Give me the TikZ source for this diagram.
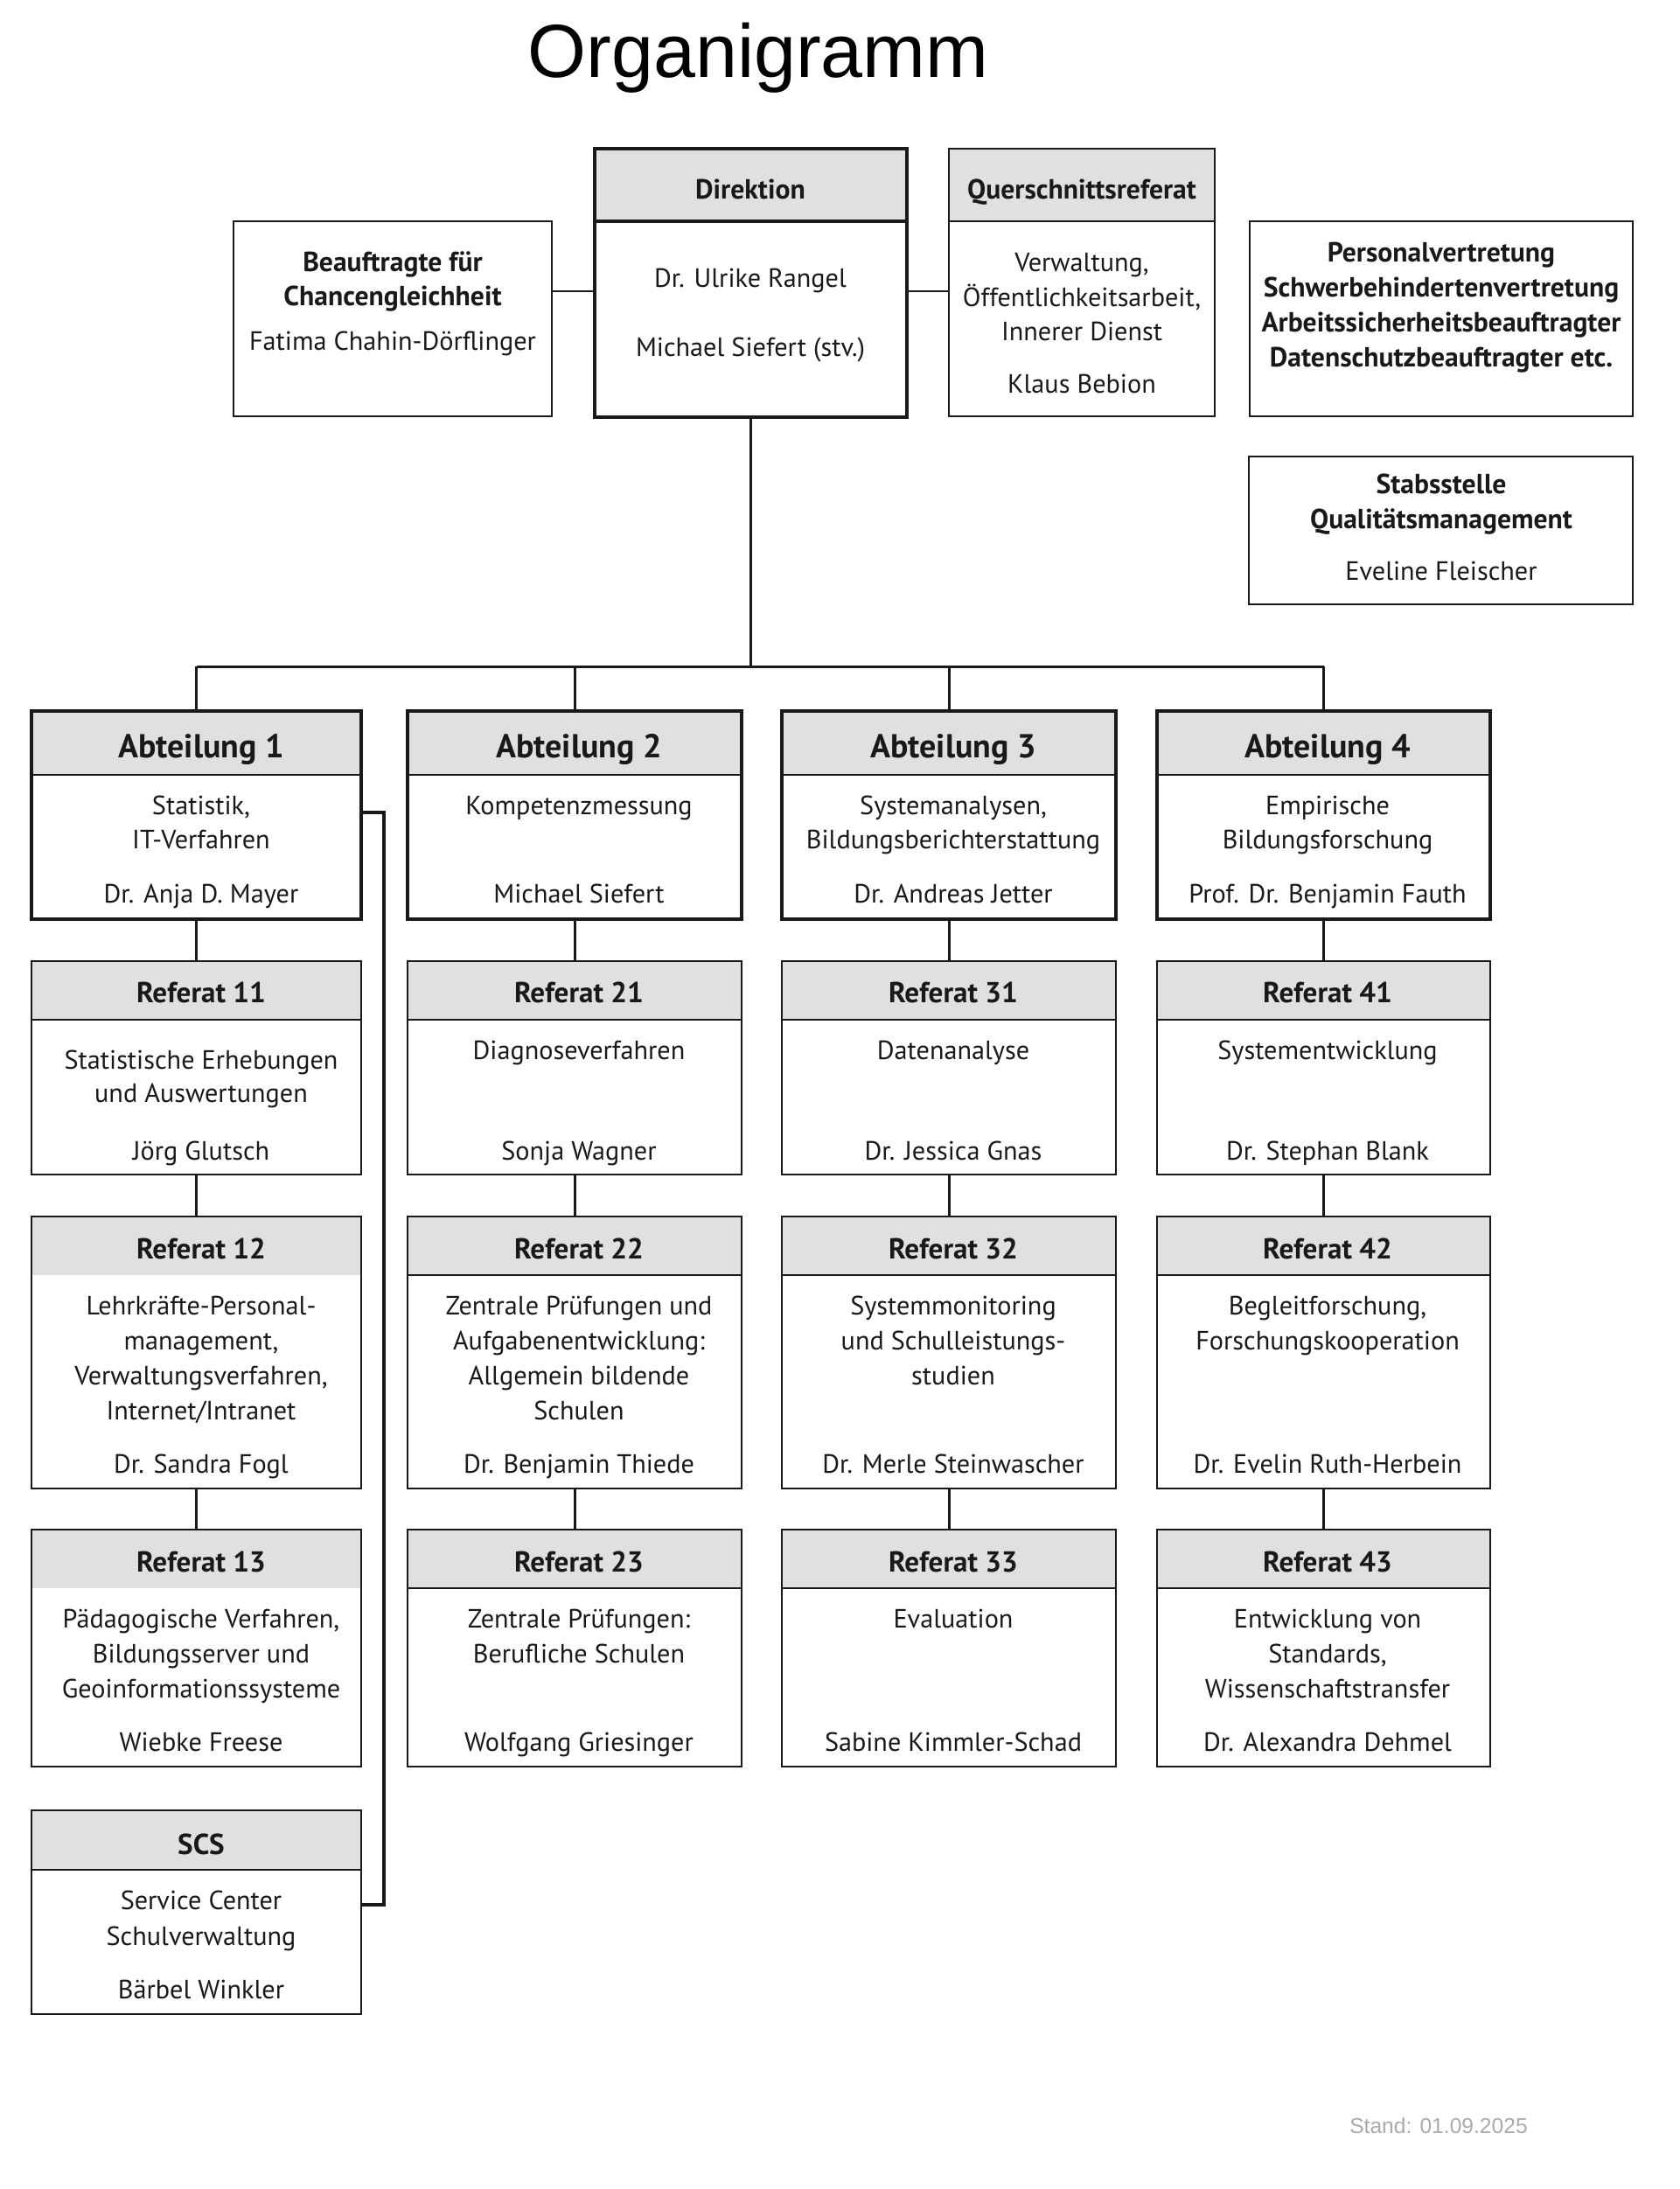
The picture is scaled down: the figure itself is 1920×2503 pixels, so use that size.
\documentclass[tikz,border=0pt]{standalone}
\usepackage{fontspec}
\setmainfont{PT Sans}
\newfontfamily\titlefont{Liberation Sans}
\usetikzlibrary{fit}
\definecolor{headfill}{RGB}{224,224,224}
\definecolor{standgray}{RGB}{170,170,170}
\definecolor{ink}{RGB}{25,25,25}
\tikzset{
  body/.style={font=\fontsize{8.6}{11}\selectfont, text=ink, inner sep=0pt, anchor=mid, yshift=-0.5pt},
  bodyb/.style={font=\fontsize{9}{11}\selectfont\bfseries, text=ink, inner sep=0pt, anchor=mid, yshift=-0.4pt},
  hdr/.style={font=\fontsize{9.4}{12}\selectfont\bfseries, text=ink, inner sep=0pt, anchor=mid, yshift=-0.9pt},
  bighdr/.style={font=\fontsize{10.8}{13}\selectfont\bfseries, text=ink, inner sep=0pt, anchor=mid, yshift=-1.0pt},
  thinbox/.style={draw=ink, line width=0.7pt},
  thickbox/.style={draw=ink, line width=1.3pt},
  thinsep/.style={draw=ink, line width=0.7pt},
  thicksep/.style={draw=ink, line width=0.9pt},
  nosep/.style={draw=none},
  conn/.style={draw=ink, line width=0.85pt},
  bracketline/.style={draw=ink, line width=1.4pt},
}
% #1 name, #2 left, #3 top, #4 right, #5 bottom, #6 header bottom, #7 border style, #8 separator style
\newcommand\orgbox[8]{%
  \fill[headfill] (#2,#3) rectangle (#4,#6);
  \draw[#8] (#2,#6) -- (#4,#6);
  \node[fit={(#2,#3)(#4,#5)}, inner sep=0pt, #7] (#1) {};
}
\newcommand\plainbox[6]{%
  \node[fit={(#2,#3)(#4,#5)}, inner sep=0pt, #6] (#1) {};
}
\newcommand\tline[4]{\node[body] (#1) at (#2,#3) {#4};}
\newcommand\bline[4]{\node[bodyb] (#1) at (#2,#3) {#4};}
\newcommand\rhead[4]{\node[hdr] (#1) at (#2,#3) {#4};}
\newcommand\ahead[4]{\node[bighdr] (#1) at (#2,#3) {#4};}
\begin{document}
\begin{tikzpicture}[x=0.01cm, y=-0.01cm]
\useasboundingbox[fill=white] (0,0) rectangle (1920,2503);

% title
\node[font=\titlefont\fontsize{24.5}{28}\selectfont, text=black, anchor=base, inner sep=0pt] (title) at (867,89) {Organigramm};

% top boxes
\orgbox{dir}{680}{170}{1037}{477}{253}{thickbox}{thicksep}
\orgbox{quer}{1085}{170}{1389}{476}{253}{thinbox}{thinsep}
\plainbox{beauf}{267}{253}{631}{476}{thinbox}
\plainbox{pers}{1429}{253}{1867}{476}{thinbox}
\plainbox{stabs}{1428}{522}{1867}{691}{thinbox}

\bline{dirh}{858}{217}{Direktion}
\tline{dir1}{858}{318}{Dr. Ulrike Rangel}
\tline{dir2}{858}{397}{Michael Siefert (stv.)}

\bline{querh}{1237}{217}{Querschnittsreferat}
\tline{quer1}{1237}{300}{Verwaltung,}
\tline{quer2}{1237}{340}{Öffentlichkeitsarbeit,}
\tline{quer3}{1237}{379}{Innerer Dienst}
\tline{quer4}{1237}{439}{Klaus Bebion}

\bline{beauf1}{449}{300}{Beauftragte für}
\bline{beauf2}{449}{339}{Chancengleichheit}
\tline{beauf3}{449}{390}{Fatima Chahin-Dörflinger}

\bline{pers1}{1648}{289}{Personalvertretung}
\bline{pers2}{1648}{329}{Schwerbehindertenvertretung}
\bline{pers3}{1648}{369}{Arbeitssicherheitsbeauftragter}
\bline{pers4}{1648}{409}{Datenschutzbeauftragter etc.}

\bline{stabs1}{1648}{554}{Stabsstelle}
\bline{stabs2}{1648}{594}{Qualitätsmanagement}
\tline{stabs3}{1648}{653}{Eveline Fleischer}

% Abteilungen
\orgbox{a1}{36}{813}{413}{1051}{886}{thickbox}{thinsep}
\orgbox{a2}{466}{813}{848}{1051}{886}{thickbox}{thinsep}
\orgbox{a3}{894}{813}{1276}{1051}{886}{thickbox}{thinsep}
\orgbox{a4}{1323}{813}{1704}{1051}{886}{thickbox}{thinsep}

\ahead{a1h}{230}{854}{Abteilung 1}
\tline{a1l1}{230}{921}{Statistik,}
\tline{a1l2}{230}{960}{IT-Verfahren}
\tline{a1n}{230}{1022}{Dr. Anja D. Mayer}

\ahead{a2h}{662}{854}{Abteilung 2}
\tline{a2l1}{662}{921}{Kompetenzmessung}
\tline{a2n}{662}{1022}{Michael Siefert}

\ahead{a3h}{1090}{854}{Abteilung 3}
\tline{a3l1}{1090}{921}{Systemanalysen,}
\tline{a3l2}{1090}{960}{Bildungsberichterstattung}
\tline{a3n}{1090}{1022}{Dr. Andreas Jetter}

\ahead{a4h}{1518}{854}{Abteilung 4}
\tline{a4l1}{1518}{921}{Empirische}
\tline{a4l2}{1518}{960}{Bildungsforschung}
\tline{a4n}{1518}{1022}{Prof. Dr. Benjamin Fauth}

% Row 1
\orgbox{r11}{36}{1099}{413}{1343}{1166}{thinbox}{thinsep}
\orgbox{r21}{466}{1099}{848}{1343}{1166}{thinbox}{thinsep}
\orgbox{r31}{894}{1099}{1276}{1343}{1166}{thinbox}{thinsep}
\orgbox{r41}{1323}{1099}{1704}{1343}{1166}{thinbox}{thinsep}

\rhead{r11h}{230}{1135}{Referat 11}
\tline{r11l1}{230}{1212}{Statistische Erhebungen}
\tline{r11l2}{230}{1250}{und Auswertungen}
\tline{r11n}{230}{1316}{Jörg Glutsch}

\rhead{r21h}{662}{1135}{Referat 21}
\tline{r21l1}{662}{1201}{Diagnoseverfahren}
\tline{r21n}{662}{1316}{Sonja Wagner}

\rhead{r31h}{1090}{1135}{Referat 31}
\tline{r31l1}{1090}{1201}{Datenanalyse}
\tline{r31n}{1090}{1316}{Dr. Jessica Gnas}

\rhead{r41h}{1518}{1135}{Referat 41}
\tline{r41l1}{1518}{1201}{Systementwicklung}
\tline{r41n}{1518}{1316}{Dr. Stephan Blank}

% Row 2
\orgbox{r12}{36}{1391}{413}{1702}{1458}{thinbox}{nosep}
\orgbox{r22}{466}{1391}{848}{1702}{1458}{thinbox}{thinsep}
\orgbox{r32}{894}{1391}{1276}{1702}{1458}{thinbox}{thinsep}
\orgbox{r42}{1323}{1391}{1704}{1702}{1458}{thinbox}{thinsep}

\rhead{r12h}{230}{1428}{Referat 12}
\tline{r12l1}{230}{1493}{Lehrkräfte-Personal-}
\tline{r12l2}{230}{1533}{management,}
\tline{r12l3}{230}{1573}{Verwaltungsverfahren,}
\tline{r12l4}{230}{1613}{Internet/Intranet}
\tline{r12n}{230}{1674}{Dr. Sandra Fogl}

\rhead{r22h}{662}{1428}{Referat 22}
\tline{r22l1}{662}{1493}{Zentrale Prüfungen und}
\tline{r22l2}{662}{1533}{Aufgabenentwicklung:}
\tline{r22l3}{662}{1573}{Allgemein bildende}
\tline{r22l4}{662}{1613}{Schulen}
\tline{r22n}{662}{1674}{Dr. Benjamin Thiede}

\rhead{r32h}{1090}{1428}{Referat 32}
\tline{r32l1}{1090}{1493}{Systemmonitoring}
\tline{r32l2}{1090}{1533}{und Schulleistungs-}
\tline{r32l3}{1090}{1573}{studien}
\tline{r32n}{1090}{1674}{Dr. Merle Steinwascher}

\rhead{r42h}{1518}{1428}{Referat 42}
\tline{r42l1}{1518}{1493}{Begleitforschung,}
\tline{r42l2}{1518}{1533}{Forschungskooperation}
\tline{r42n}{1518}{1674}{Dr. Evelin Ruth-Herbein}

% Row 3
\orgbox{r13}{36}{1749}{413}{2020}{1816}{thinbox}{nosep}
\orgbox{r23}{466}{1749}{848}{2020}{1816}{thinbox}{thinsep}
\orgbox{r33}{894}{1749}{1276}{2020}{1816}{thinbox}{thinsep}
\orgbox{r43}{1323}{1749}{1704}{2020}{1816}{thinbox}{thinsep}

\rhead{r13h}{230}{1786}{Referat 13}
\tline{r13l1}{230}{1851}{Pädagogische Verfahren,}
\tline{r13l2}{230}{1891}{Bildungsserver und}
\tline{r13l3}{230}{1931}{Geoinformationssysteme}
\tline{r13n}{230}{1992}{Wiebke Freese}

\rhead{r23h}{662}{1786}{Referat 23}
\tline{r23l1}{662}{1851}{Zentrale Prüfungen:}
\tline{r23l2}{662}{1891}{Berufliche Schulen}
\tline{r23n}{662}{1992}{Wolfgang Griesinger}

\rhead{r33h}{1090}{1786}{Referat 33}
\tline{r33l1}{1090}{1851}{Evaluation}
\tline{r33n}{1090}{1992}{Sabine Kimmler-Schad}

\rhead{r43h}{1518}{1786}{Referat 43}
\tline{r43l1}{1518}{1851}{Entwicklung von}
\tline{r43l2}{1518}{1891}{Standards,}
\tline{r43l3}{1518}{1931}{Wissenschaftstransfer}
\tline{r43n}{1518}{1992}{Dr. Alexandra Dehmel}

% SCS
\orgbox{scs}{36}{2070}{413}{2303}{2138}{thinbox}{thinsep}
\rhead{scsh}{230}{2109}{SCS}
\tline{scsl1}{230}{2173}{Service Center}
\tline{scsl2}{230}{2214}{Schulverwaltung}
\tline{scsn}{230}{2275}{Bärbel Winkler}

% Stand
\node[font=\titlefont\fontsize{7}{8}\selectfont, text=standgray, inner sep=0pt, anchor=mid] (stand) at (1645,2431) {Stand: 01.09.2025};

% connectors
\coordinate (siderow) at (0,333);
\coordinate (bus) at (0,762);
\draw[conn] (beauf.east |- siderow) -- (dir.west |- siderow);
\draw[conn] (dir.east |- siderow) -- (quer.west |- siderow);
\draw[conn] (dir.south) -- (dir.south |- bus);
\draw[conn] (a1.north |- bus) -- (a4.north |- bus);
\foreach \a in {a1,a2,a3,a4} \draw[conn] (\a.north |- bus) -- (\a.north);
\foreach \c in {1,2,3,4} {
  \draw[conn] (a\c.south) -- (r\c1.north);
  \draw[conn] (r\c1.south) -- (r\c2.north);
  \draw[conn] (r\c2.south) -- (r\c3.north);
}
\coordinate (brtop) at (439,929);
\coordinate (brbot) at (439,2178);
\draw[bracketline] (a1.east |- brtop) -- (brtop) -- (brbot) -- (scs.east |- brbot);
\end{tikzpicture}
\end{document}
